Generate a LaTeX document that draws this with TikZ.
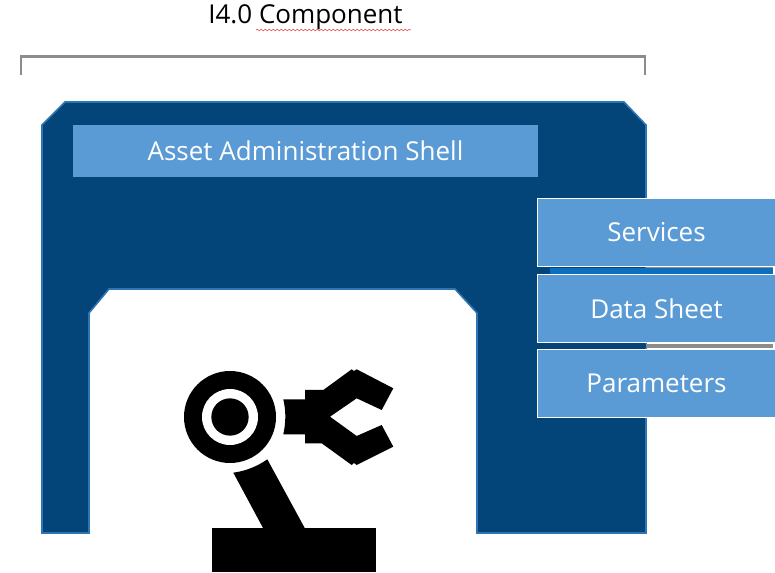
\documentclass[tikz,border=0pt]{standalone}
\usepackage{fontspec}
\setmainfont{Open Sans}
\usetikzlibrary{decorations.pathmorphing}
\definecolor{shelldark}{RGB}{3,69,120}
\definecolor{shelledge}{RGB}{46,117,182}
\definecolor{boxblue}{RGB}{91,155,213}
\definecolor{stripblue}{RGB}{11,111,190}
\definecolor{bracketgray}{RGB}{140,140,140}
\definecolor{squigglered}{RGB}{240,90,90}

\begin{document}
\begin{tikzpicture}[%
      x=0.75pt,y=-0.75pt,
      labelbox/.style={fill=boxblue,text=white,inner sep=0pt,font=\fontsize{19.5}{22}\selectfont},
      sidebox/.style={labelbox,draw=white,line width=0.75pt,minimum width=178.5pt},
      ]
      \useasboundingbox (0,0) rectangle (775,573);

      % bracket and title
      \draw [color=bracketgray,line width=1.6pt] (21,75) -- (21,56.5) -- (645,56.5) -- (645,75);
      \node (title) at (305.5,17) [inner sep=0pt,text=black,font=\fontsize{19.5}{22}\selectfont] {I4.0 Component};
      \draw [color=squigglered,line width=0.5pt,decorate,decoration={snake,amplitude=0.6pt,segment length=3pt}] (256,30) -- (411,30);

      % shell
      \filldraw [fill=shelldark,draw=shelledge,line width=1.2pt] (42,533) -- (42,125) -- (65,102) -- (624,102) -- (646,125) -- (646,533) -- (477,533) -- (477,313) -- (455,289) -- (109,289) -- (89,313) -- (89,533) -- cycle;
      \node (shell) at (305.5,151) [labelbox,minimum width=349pt,minimum height=39pt] {Asset Administration Shell};

      % strips between the side boxes
      \fill [color=stripblue] (550,268) rectangle (773,274.5);
      \fill [color=bracketgray] (646,267) rectangle (773,268.5);
      \fill [color=shelldark] (550,344) rectangle (646,348.5);
      \fill [color=bracketgray] (646,344.5) rectangle (773,348);

      \node (services) at (656.5,232.5) [sidebox,minimum height=51.5pt] {Services};
      \node (datasheet) at (656.5,309) [sidebox,minimum height=51pt] {Data Sheet};
      \node (parameters) at (656.5,383.5) [sidebox,minimum height=51.5pt] {Parameters};

      % robot
      \fill [color=black] (230,417) circle (34.5pt);
      \fill [color=white] (230,417) circle (21pt);
      \fill [color=black] (230,417) circle (14pt);
      \fill [color=black] (283.3,399.3) -- (305,399.3) -- (305,390) -- (323.3,390) -- (351.7,369.3) -- (354,371) -- (356.7,369.3) -- (393.3,388.3) -- (381.7,410) -- (356.7,398.3) -- (330,416.7) -- (356.7,436) -- (381.7,425) -- (393.3,446.7) -- (356.7,465) -- (354,463) -- (351.7,465) -- (321.7,443.3) -- (305,443.3) -- (305,434.3) -- (283.3,434.3) .. controls (286,422) and (286,411) .. (283.3,399.3) -- cycle;
      \fill [color=black] (233.3,472.7) .. controls (246,471) and (258,466) .. (267.3,459.3) -- (305,528.5) -- (263.3,528.5) -- cycle;
      \fill [color=black] (211.7,528.3) rectangle (376,572);
      \end{tikzpicture}
\end{document}
